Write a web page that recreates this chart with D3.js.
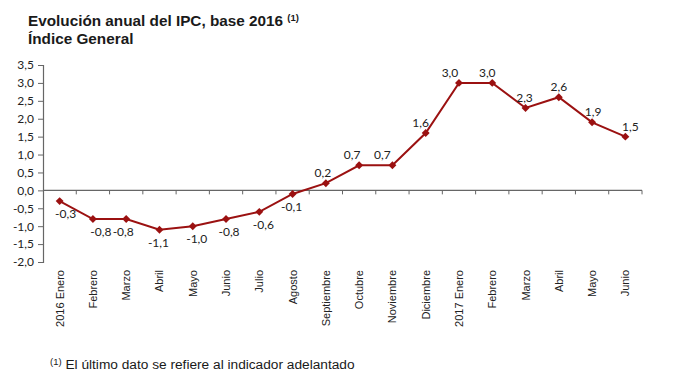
<!DOCTYPE html>
<html>
<head>
<meta charset="utf-8">
<script src="https://cdn.jsdelivr.net/npm/d3@7"></script>
<style>
  body { margin: 0; background: #fff; }
  svg { display: block; }
  .title { font-family: "Liberation Sans", Arial, sans-serif; font-weight: bold; font-size: 15.3px; fill: #1a1a1a; }
  .note { font-family: "Liberation Sans", Arial, sans-serif; font-size: 13.7px; fill: #1a1a1a; }
  .ytick text { font-family: Lato, "Liberation Sans", sans-serif; font-size: 12px; fill: #222; }
  .xlab { font-family: "Liberation Sans", Arial, sans-serif; font-size: 11px; fill: #222; }
  .dlab { font-family: Lato, "Liberation Sans", sans-serif; font-size: 12px; fill: #222; }
</style>
</head>
<body>
<div id="chart"></div>
<script>
// categories (months) and annual CPI change
const months = ["2016 Enero", "Febrero", "Marzo", "Abril", "Mayo", "Junio", "Julio", "Agosto",
  "Septiembre", "Octubre", "Noviembre", "Diciembre", "2017 Enero", "Febrero", "Marzo", "Abril", "Mayo", "Junio"];
const ipc = [-0.3, -0.8, -0.8, -1.1, -1.0, -0.8, -0.6, -0.1, 0.2, 0.7, 0.7, 1.6, 3.0, 3.0, 2.3, 2.6, 1.9, 1.5];
const yTicks = [-2.0, -1.5, -1.0, -0.5, 0.0, 0.5, 1.0, 1.5, 2.0, 2.5, 3.0, 3.5];

// small horizontal nudges of the value labels, like in the original (px)
const labelNudge = [6, 8, -3, -1, 4, 3, 4, -1, -3, -7, -10, -5, -9, -5, -1, 0, 1, 5];

const W = 680, H = 383;
const plotLeft = 43, plotRight = 642, plotTop = 65, plotBottom = 262;
const lineColor = "#9b1111";
const fmt = v => d3.format(".1f")(v).replace(".", ",").replace("−", "-");

const svg = d3.select("#chart").append("svg")
  .attr("width", W).attr("height", H);

// title
const t1 = svg.append("text").attr("class", "title").attr("x", 28).attr("y", 26);
t1.append("tspan").text("Evolución anual del IPC, base 2016 ");
t1.append("tspan").attr("font-size", "9.5px").attr("dy", -5).text("(1)");
svg.append("text").attr("class", "title").attr("x", 28).attr("y", 44).text("Índice General");

const x = d3.scaleBand().domain(d3.range(months.length)).range([plotLeft, plotRight]);
const y = d3.scaleLinear().domain([-2, 3.5]).range([plotBottom, plotTop]);

// y axis
const yAxis = svg.append("g").attr("class", "ytick")
  .attr("transform", `translate(${plotLeft},0)`)
  .call(d3.axisLeft(y).tickValues(yTicks).tickFormat(fmt).tickSize(5).tickPadding(4));
yAxis.select(".domain").attr("stroke", "#666").attr("stroke-width", 1.2);
yAxis.selectAll(".tick line").attr("stroke", "#666");

// x axis along zero
const xAxis = svg.append("g").attr("transform", `translate(0,${y(0)})`);
xAxis.append("line").attr("x1", plotLeft).attr("x2", plotRight)
  .attr("stroke", "#666").attr("stroke-width", 1.2);
xAxis.selectAll("line.tk").data(d3.range(1, months.length + 1)).enter()
  .append("line").attr("class", "tk")
  .attr("x1", i => plotLeft + x.step() * i).attr("x2", i => plotLeft + x.step() * i)
  .attr("y1", 0).attr("y2", 4).attr("stroke", "#666");

// category labels, rotated
svg.selectAll("text.xlab").data(months).enter()
  .append("text").attr("class", "xlab")
  .attr("transform", (d, i) => `translate(${x(i) + x.bandwidth() / 2 + 4},270) rotate(-90)`)
  .attr("text-anchor", "end")
  .text(d => d);

// line
const cx = i => x(i) + x.bandwidth() / 2;
svg.append("path").datum(ipc)
  .attr("fill", "none").attr("stroke", lineColor).attr("stroke-width", 2)
  .attr("d", d3.line().x((d, i) => cx(i)).y(d => y(d)));

// diamond markers
svg.selectAll("path.mk").data(ipc).enter()
  .append("path").attr("class", "mk")
  .attr("d", d3.symbol().type(d3.symbolDiamond2).size(40))
  .attr("transform", (d, i) => `translate(${cx(i)},${y(d)})`)
  .attr("fill", lineColor);

// value labels
svg.selectAll("text.dlab").data(ipc).enter()
  .append("text").attr("class", "dlab")
  .attr("text-anchor", "middle")
  .attr("x", (d, i) => cx(i) + labelNudge[i])
  .attr("y", d => d < 0 ? y(d) + 17 : y(d) - 6)
  .text(fmt);

// footnote
const n = svg.append("text").attr("class", "note").attr("x", 50).attr("y", 369);
n.append("tspan").attr("font-size", "9.5px").attr("dy", -4).text("(1)");
n.append("tspan").attr("dy", 4).text(" El último dato se refiere al indicador adelantado");
</script>
</body>
</html>
